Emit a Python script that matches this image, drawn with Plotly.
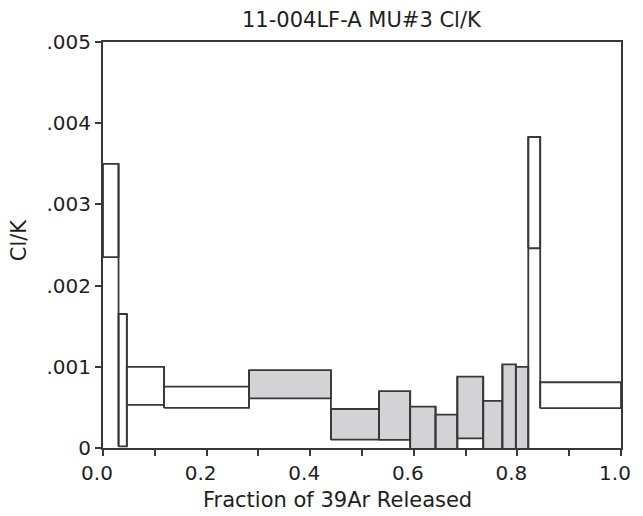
import plotly.graph_objects as go

# Step boundaries (fraction of 39Ar released)
x_edges = [0.0, 0.030, 0.046, 0.118, 0.282, 0.440, 0.533, 0.593, 0.642,
           0.684, 0.734, 0.771, 0.797, 0.821, 0.844, 1.0]
# Lower and upper bounds of each step box (Cl/K)
lo_vals = [0.00235, 0.00002, 0.00053, 0.000494, 0.00061, 0.000102, 0.0001,
           -0.0002, -0.0002, 0.000118, -0.0002, -0.0002, -0.0002, 0.00246, 0.00049]
hi_vals = [0.0035, 0.00165, 0.0010, 0.000755, 0.00096, 0.00048, 0.0007,
           0.00051, 0.00041, 0.00088, 0.00058, 0.00103, 0.0010, 0.00383, 0.00081]
# Steps included (shaded)
shaded = [False, False, False, False, True, True, True, True, True,
          True, True, True, True, False, False]

x_tickvals = [round(0.1 * i, 1) for i in range(11)]
x_ticktext = ["0.0", "", "0.2", "", "0.4", "", "0.6", "", "0.8", "", "1.0"]
y_tickvals = [0, 0.001, 0.002, 0.003, 0.004, 0.005]
y_ticktext = ["0", ".001", ".002", ".003", ".004", ".005"]

LINE = "#383838"
GRAY = "#d3d3d5"
FONT = "DejaVu Sans"
TXT = "#1e1e1e"
TICK_SIZE = 20
TITLE_SIZE = 21

fig = go.Figure()

for i in range(len(lo_vals)):
    x0, x1 = x_edges[i], x_edges[i + 1]
    lo, hi = lo_vals[i], hi_vals[i]
    fig.add_trace(go.Scatter(
        x=[x0, x1, x1, x0, x0], y=[lo, lo, hi, hi, lo],
        mode="lines", fill="toself",
        fillcolor=GRAY if shaded[i] else "white",
        line=dict(color=LINE, width=1.8),
        hoverinfo="skip", showlegend=False))

# Vertical connectors between consecutive steps
cx, cy = [], []
for i in range(len(lo_vals) - 1):
    xb = x_edges[i + 1]
    cx += [xb, xb, None]
    cy += [min(lo_vals[i], lo_vals[i + 1]), max(hi_vals[i], hi_vals[i + 1]), None]
fig.add_trace(go.Scatter(x=cx, y=cy, mode="lines",
                         line=dict(color=LINE, width=1.8),
                         hoverinfo="skip", showlegend=False))

fig.update_layout(
    width=643, height=516,
    margin=dict(l=103.4, r=12, t=41.5, b=67.7),
    paper_bgcolor="white", plot_bgcolor="white",
    font=dict(family=FONT, size=TICK_SIZE, color=TXT),
    showlegend=False,
    xaxis=dict(range=[0, 1], tickvals=x_tickvals, ticktext=x_ticktext,
               ticks="outside", ticklen=6, tickwidth=1.5, tickcolor=LINE,
               showline=True, linecolor=LINE, linewidth=2, mirror=True,
               showgrid=False, zeroline=False, ticklabelshift=-6,
               tickfont=dict(family=FONT, size=TICK_SIZE, color=TXT)),
    yaxis=dict(range=[0, 0.005], tickvals=y_tickvals, ticktext=y_ticktext,
               ticks="outside", ticklen=6, tickwidth=1.5, tickcolor=LINE,
               showline=True, linecolor=LINE, linewidth=2, mirror=True,
               showgrid=False, zeroline=False,
               tickfont=dict(family=FONT, size=TICK_SIZE, color=TXT)),
    annotations=[
        dict(text="11-004LF-A MU#3 Cl/K", xref="paper", yref="paper",
             x=0.5, y=1.053, xanchor="center", yanchor="middle",
             showarrow=False, font=dict(family=FONT, size=TITLE_SIZE, color=TXT)),
        dict(text="Fraction of 39Ar Released", xref="paper", yref="paper",
             x=0.452, y=-0.128, xanchor="center", yanchor="middle",
             showarrow=False, font=dict(family=FONT, size=TITLE_SIZE, color=TXT)),
        dict(text="Cl/K", xref="paper", yref="paper", textangle=-90,
             x=-0.162, y=0.512, xanchor="center", yanchor="middle",
             showarrow=False, font=dict(family=FONT, size=TITLE_SIZE, color=TXT)),
    ],
)

fig.write_html("out.html")
